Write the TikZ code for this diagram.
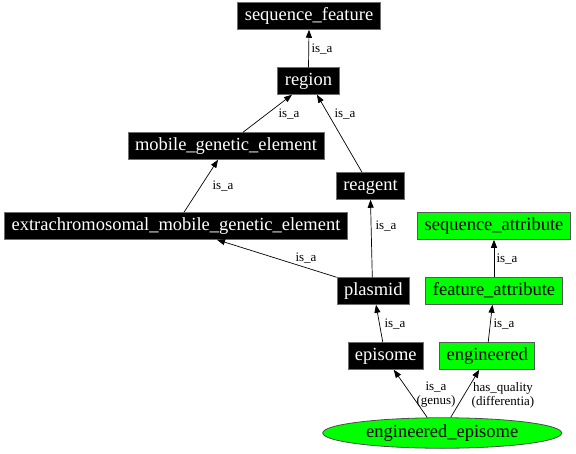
\documentclass[tikz,border=0pt]{standalone}
\usepackage{fontspec}
\setmainfont{Liberation Serif}
\newfontfamily\gvfont{Liberation Serif}
\usepackage{xcolor}
\usepackage{tikz}
\usetikzlibrary{arrows.meta,shapes.geometric}
\definecolor{bg}{HTML}{FFFFFF}
\definecolor{termbg}{HTML}{000000}
\definecolor{attrbg}{HTML}{00FF00}
\definecolor{rim}{HTML}{6E6E6E}
\definecolor{ink}{HTML}{000000}
\tikzset{
  term/.style={
    draw=rim, fill=termbg, text=white,
    font=\gvfont\fontsize{18.5}{20}\selectfont,
    line width=0.8pt,
    inner xsep=7pt, inner ysep=0pt,
    text height=13pt, text depth=4pt,
    minimum height=26.7pt
  },
  attr/.style={
    term, fill=attrbg, text=ink, draw=black!65
  },
  root/.style={
    ellipse, draw=black!70, fill=attrbg, text=ink,
    font=\gvfont\fontsize{18.5}{20}\selectfont,
    line width=0.8pt, inner sep=0pt,
    text height=13pt, text depth=4pt,
    minimum width=239pt, minimum height=30.5pt
  },
  rel/.style={
    font=\gvfont\fontsize{13}{14}\selectfont,
    text=ink, inner sep=0pt, align=center
  },
  isa/.style={
    draw=ink, line width=0.7pt,
    -{Triangle[length=8pt,width=6pt]}
  }
}

\begin{document}
\begin{tikzpicture}[x=1pt, y=-1pt]
  \fill[bg] (0,0) rectangle (576,453);
  \useasboundingbox (0,0) rectangle (576,453);

  % terms
  \node[term] (seqf)     at (309,16)    {sequence\_feature};
  \node[term] (region)   at (308.5,81)  {region};
  \node[term] (mobile)   at (226,146)   {mobile\_genetic\_element};
  \node[term] (reagent)  at (370.5,186) {reagent};
  \node[term] (extra)    at (176,226)   {extrachromosomal\_mobile\_genetic\_element};
  \node[term] (plasmid)  at (373.3,291) {plasmid};
  \node[term] (episome)  at (385.8,356) {episome};

  % attributes
  \node[attr] (seqattr)  at (494,226)   {sequence\_attribute};
  \node[attr] (featattr) at (494,291)   {feature\_attribute};
  \node[attr] (eng)      at (487.2,356) {engineered};

  \node[root] (eep)      at (442.2,433) {engineered\_episome};

  % is_a edges
  \draw[isa] (region.north) -- (seqf.south);
  \draw[isa] ([xshift=17pt]mobile.north) -- ([xshift=-16.5pt]region.south);
  \draw[isa] ([xshift=-8.5pt]reagent.north) -- ([xshift=8.5pt]region.south);
  \draw[isa] ([xshift=8pt]extra.north) -- ([xshift=-8pt]mobile.south);
  \draw[isa] (plasmid.north west) -- ([xshift=41pt]extra.south);
  \draw[isa] ([xshift=-1pt]plasmid.north) -- (reagent.south);
  \draw[isa] ([xshift=-3pt]episome.north) -- ([xshift=2.7pt]plasmid.south);
  \draw[isa] (featattr.north) -- (seqattr.south);
  \draw[isa] ([xshift=1pt]eng.north) -- ([xshift=-1.6pt]featattr.south);
  \draw[isa] ([xshift=-15pt]eep.north) -- ([xshift=8pt]episome.south);
  \draw[isa] ([xshift=8.5pt]eep.north) -- ([xshift=-8pt]eng.south);

  % edge labels
  \node[rel] (l1)  at (322,49)  {is\_a};
  \node[rel] (l2)  at (289,114) {is\_a};
  \node[rel] (l3)  at (345,114) {is\_a};
  \node[rel] (l4)  at (223,186) {is\_a};
  \node[rel] (l5)  at (306,258) {is\_a};
  \node[rel] (l6)  at (386,226) {is\_a};
  \node[rel] (l7)  at (395,324) {is\_a};
  \node[rel] (l8)  at (507,259) {is\_a};
  \node[rel] (l9)  at (504,324) {is\_a};
  \node[rel] (l10) at (436,395) {is\_a\\(genus)};
  \node[rel] (l11) at (503,395) {has\_quality\\(differentia)};
\end{tikzpicture}
\end{document}
